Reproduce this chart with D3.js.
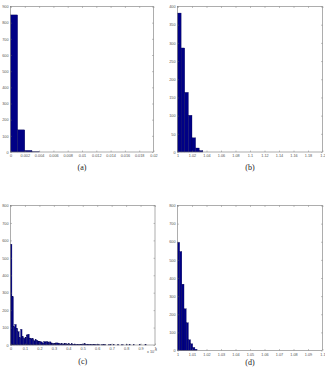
<!DOCTYPE html>
<html>
<head>
<meta charset="utf-8">
<script src="https://cdn.jsdelivr.net/npm/d3@7"></script>
<style>
	body { margin: 0; background: #fff; }
	svg { display: block; }
	.tick text { font-family: "Liberation Sans", Arial, sans-serif; font-size: 3.8px; fill: #555; }
</style>
</head>
<body>
<script>
// (a) histogram, bins of 0.001
var countsA = [848, 137, 10, 1];
var xTicksA = ["0", "0.002", "0.004", "0.006", "0.008", "0.01", "0.012", "0.014", "0.016", "0.018", "0.02"];
var yTicksA = [0, 100, 200, 300, 400, 500, 600, 700, 800, 900];

// (b) histogram, bins of 0.005 starting at 1
var countsB = [382, 286, 164, 101, 39, 11, 4];
var xTicksB = ["1", "1.02", "1.04", "1.06", "1.08", "1.1", "1.12", "1.14", "1.16", "1.18", "1.2"];
var yTicksB = [0, 50, 100, 150, 200, 250, 300, 350, 400];

// (c) histogram, bins of 0.01 (x 10^-3)
var countsC = [578, 277, 105, 118, 96, 77, 42, 90, 48, 38,
	45, 58, 62, 40, 38, 36, 25, 30, 26, 22,
	20, 18, 12, 20, 18, 20, 14, 18, 12, 8,
	10, 12, 12, 9, 7, 8, 6, 8, 7, 6,
	8, 5, 7, 4, 6, 3, 4, 3, 2, 5,
	6, 7, 4, 5, 3, 2, 1, 1, 1, 2,
	2, 1, 0, 1, 2, 1, 0, 0, 2, 1,
	0, 2, 0, 0, 1, 0, 0, 2, 0, 0,
	1, 0, 2, 0, 0, 1, 0, 0, 0, 2,
	0, 0, 0, 1, 0, 0, 0, 0, 0, 0];
var xTicksC = ["0", "0.1", "0.2", "0.3", "0.4", "0.5", "0.6", "0.7", "0.8", "0.9", "1"];
var yTicksC = [0, 100, 200, 300, 400, 500, 600, 700, 800];

// (d) histogram, bins of 0.0015 starting at 1
var countsD = [597, 546, 366, 230, 153, 59, 37, 17, 7];
var xTicksD = ["1", "1.01", "1.02", "1.03", "1.04", "1.05", "1.06", "1.07", "1.08", "1.09", "1.1"];
var yTicksD = [0, 100, 200, 300, 400, 500, 600, 700, 800];

var captions = ["(a)", "(b)", "(c)", "(d)"];

var svg = d3.select("body")
	.append("svg")
	.attr("width", 325)
	.attr("height", 367);

function drawPanel(p) {
	var g = svg.append("g");

	var xVals = p.xTicks.map(Number);
	var x = d3.scaleLinear()
		.domain([xVals[0], xVals[xVals.length - 1]])
		.range([p.left, p.right]);
	var y = d3.scaleLinear()
		.domain([0, p.yTicks[p.yTicks.length - 1]])
		.range([p.bottom, p.top]);

	g.selectAll("rect.bar")
		.data(p.counts)
		.enter()
		.append("rect")
		.attr("class", "bar")
		.attr("x", function (d, i) { return x(p.start + i * p.bin); })
		.attr("width", x(p.start + p.bin) - x(p.start))
		.attr("y", function (d) { return y(d); })
		.attr("height", function (d) { return y(0) - y(d); })
		.attr("fill", "#000085")
		.attr("stroke", "#00004a")
		.attr("stroke-width", 0.3);

	// MATLAB style box, ticks pointing inwards on all four sides
	g.append("g")
		.attr("transform", "translate(0," + p.bottom + ")")
		.call(d3.axisBottom(x).tickValues(xVals)
			.tickFormat(function (d, i) { return p.xTicks[i]; })
			.tickSize(-1.5).tickPadding(2.8));
	g.append("g")
		.attr("transform", "translate(0," + p.top + ")")
		.call(d3.axisTop(x).tickValues(xVals).tickFormat("").tickSize(-1.5));
	g.append("g")
		.attr("transform", "translate(" + p.left + ",0)")
		.call(d3.axisLeft(y).tickValues(p.yTicks).tickSize(-1.5).tickPadding(2));
	g.append("g")
		.attr("transform", "translate(" + p.right + ",0)")
		.call(d3.axisRight(y).tickValues(p.yTicks).tickFormat("").tickSize(-1.5));

	g.selectAll(".domain").remove();
	g.selectAll(".tick line").attr("stroke", "#666").attr("stroke-width", 0.4);

	g.append("rect")
		.attr("x", p.left)
		.attr("y", p.top)
		.attr("width", p.right - p.left)
		.attr("height", p.bottom - p.top)
		.attr("fill", "none")
		.attr("stroke", "#777")
		.attr("stroke-width", 0.6);

	if (p.exponent) {
		var t = g.append("text")
			.attr("x", p.right - 8)
			.attr("y", p.bottom + 8)
			.attr("fill", "#555")
			.style("font-family", "'Liberation Sans', Arial, sans-serif")
			.style("font-size", "3.8px")
			.text("x 10");
		t.append("tspan")
			.attr("dy", -1.6)
			.style("font-size", "3px")
			.text("-3");
	}

	g.append("text")
		.attr("x", (p.left + p.right) / 2)
		.attr("y", p.captionY)
		.attr("text-anchor", "middle")
		.attr("fill", "#222")
		.style("font-family", "'Liberation Serif', 'DejaVu Serif', serif")
		.style("font-size", "8px")
		.text(p.caption);
}

drawPanel({ counts: countsA, start: 0, bin: 0.001, xTicks: xTicksA, yTicks: yTicksA,
	left: 10.5, right: 153.5, top: 6.5, bottom: 152, caption: captions[0], captionY: 170 });
drawPanel({ counts: countsB, start: 1, bin: 0.005, xTicks: xTicksB, yTicks: yTicksB,
	left: 177.5, right: 322.5, top: 6.5, bottom: 152, caption: captions[1], captionY: 170 });
drawPanel({ counts: countsC, start: 0, bin: 0.01, xTicks: xTicksC, yTicks: yTicksC,
	left: 10.5, right: 155, top: 205.5, bottom: 345, caption: captions[2], captionY: 364, exponent: true });
drawPanel({ counts: countsD, start: 1, bin: 0.0015, xTicks: xTicksD, yTicks: yTicksD,
	left: 177.5, right: 322.5, top: 205.5, bottom: 350.5, caption: captions[3], captionY: 364.5 });
</script>
</body>
</html>
